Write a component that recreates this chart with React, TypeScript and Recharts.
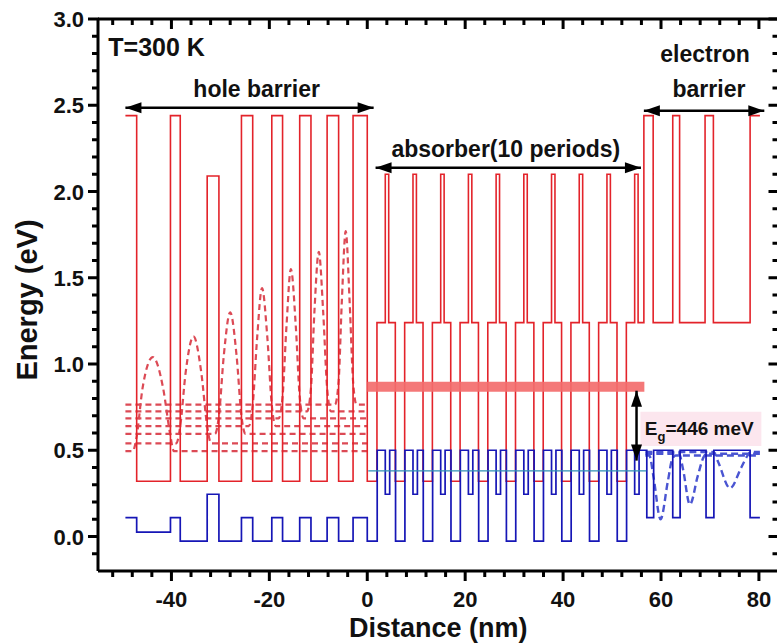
import {
  ComposedChart,
  Line,
  XAxis,
  YAxis,
  ReferenceArea,
  ReferenceDot,
  ReferenceLine,
  Label,
} from 'recharts'

const FONT = '"Liberation Sans", Arial, Helvetica, sans-serif'

// axis ticks
const xMajor = [-40, -20, 0, 20, 40, 60, 80]
const xMinor = [-52, -48, -44, -36, -32, -28, -24, -16, -12, -8, -4, 4, 8, 12, 16, 24, 28, 32, 36, 44, 48, 52, 56, 64, 68, 72, 76]
const yMajor = [0, 0.5, 1, 1.5, 2, 2.5, 3]
const yMinor = [-0.1, 0.1, 0.2, 0.3, 0.4, 0.6, 0.7, 0.8, 0.9, 1.1, 1.2, 1.3, 1.4, 1.6, 1.7, 1.8, 1.9, 2.1, 2.2, 2.3, 2.4, 2.6, 2.7, 2.8, 2.9]
const xTicks = [...xMajor, ...xMinor].sort((a, b) => a - b)
const yTicks = [...yMajor, ...yMinor].sort((a, b) => a - b)

// conduction band edge: step boundaries (nm) and energy of each step (eV)
const cbEdges = [
  -49.4, -47.1, -40.2, -38.2, -32.7, -30.3, -25.7, -23.4, -19.5, -17.3, -13.8, -11.5, -8.2, -5.85, -2.9, 0,
  1.98, 3.68, 4.38, 5.73,
  7.64, 9.34, 10.04, 11.39,
  13.3, 15.0, 15.7, 17.05,
  18.96, 20.66, 21.36, 22.71,
  24.62, 26.32, 27.02, 28.37,
  30.28, 31.98, 32.68, 34.03,
  35.94, 37.64, 38.34, 39.69,
  41.6, 43.3, 44.0, 45.35,
  47.26, 48.96, 49.66, 51.01,
  52.92, 54.62, 55.32,
  56.5, 58.4, 62.4, 63.8, 69.0, 70.7, 78.2, 80.2,
]
const cbLevels = [
  2.44, 0.32, 2.44, 0.32, 2.09, 0.32, 2.44, 0.32, 2.44, 0.32, 2.44, 0.32, 2.44, 0.32, 2.44,
  0.32,
  1.24, 2.1, 1.24, 0.32,
  1.24, 2.1, 1.24, 0.32,
  1.24, 2.1, 1.24, 0.32,
  1.24, 2.1, 1.24, 0.32,
  1.24, 2.1, 1.24, 0.32,
  1.24, 2.1, 1.24, 0.32,
  1.24, 2.1, 1.24, 0.32,
  1.24, 2.1, 1.24, 0.32,
  1.24, 2.1, 1.24, 0.32,
  1.24, 2.1, 1.24,
  2.44, 1.24, 2.44, 1.24, 2.44, 1.24, 2.44,
]

// valence band edge
const vbEdges = [
  -49.4, -47.1, -40.2, -38.2, -32.7, -30.3, -25.7, -23.4, -19.5, -17.3, -13.8, -11.5, -8.2, -5.85, -2.9, 0,
  2.03, 3.68, 4.58, 5.78,
  7.69, 9.34, 10.24, 11.44,
  13.35, 15.0, 15.9, 17.1,
  19.01, 20.66, 21.56, 22.76,
  24.67, 26.32, 27.22, 28.42,
  30.33, 31.98, 32.88, 34.08,
  35.99, 37.64, 38.54, 39.74,
  41.65, 43.3, 44.2, 45.4,
  47.31, 48.96, 49.86, 51.06,
  52.97, 54.62, 55.52,
  57.1, 58.5, 62.4, 63.9, 69.2, 70.8, 78.2, 80.2,
]
const vbLevels = [
  0.11, 0.025, 0.11, -0.027, 0.245, -0.027, 0.11, -0.027, 0.11, -0.027, 0.11, -0.027, 0.11, -0.027, 0.11,
  -0.027,
  0.5, 0.245, 0.5, -0.027,
  0.5, 0.245, 0.5, -0.027,
  0.5, 0.245, 0.5, -0.027,
  0.5, 0.245, 0.5, -0.027,
  0.5, 0.245, 0.5, -0.027,
  0.5, 0.245, 0.5, -0.027,
  0.5, 0.245, 0.5, -0.027,
  0.5, 0.245, 0.5, -0.027,
  0.5, 0.245, 0.5, -0.027,
  0.5, 0.245, 0.5,
  0.11, 0.5, 0.11, 0.5, 0.11, 0.5, 0.11,
]

// confined states in the hole barrier (nm, eV)
const holeWave1: [number, number][] = [[-49.4, 0.495], [-47.9, 0.495], [-47.1, 0.58], [-45.9, 0.86], [-43.8, 1.04], [-41.7, 0.86], [-40.3, 0.6], [-39.5, 0.495], [0, 0.495]]
const holeWave2: [number, number][] = [[-49.4, 0.54], [-39.0, 0.54], [-38.2, 0.64], [-37.1, 0.95], [-35.5, 1.16], [-33.9, 0.95], [-32.7, 0.64], [-31.9, 0.54], [0, 0.54]]
const holeWave3: [number, number][] = [[-49.4, 0.595], [-31.1, 0.595], [-30.3, 0.7], [-29.3, 1.05], [-28.0, 1.3], [-26.7, 1.05], [-25.7, 0.7], [-24.9, 0.595], [0, 0.595]]
const holeWave4: [number, number][] = [[-49.4, 0.64], [-24.2, 0.64], [-23.4, 0.76], [-22.5, 1.15], [-21.5, 1.44], [-20.4, 1.15], [-19.5, 0.76], [-18.7, 0.64], [0, 0.64]]
const holeWave5: [number, number][] = [[-49.4, 0.685], [-18.1, 0.685], [-17.3, 0.81], [-16.5, 1.22], [-15.6, 1.55], [-14.6, 1.22], [-13.8, 0.81], [-13.0, 0.685], [0, 0.685]]
const holeWave6: [number, number][] = [[-49.4, 0.725], [-12.3, 0.725], [-11.5, 0.86], [-10.8, 1.3], [-9.9, 1.65], [-9.0, 1.3], [-8.2, 0.86], [-7.4, 0.725], [0, 0.725]]
const holeWave7: [number, number][] = [[-49.4, 0.765], [-6.6, 0.765], [-5.85, 0.9], [-5.2, 1.36], [-4.4, 1.77], [-3.6, 1.36], [-2.9, 0.9], [-2.2, 0.765], [0, 0.765]]

// confined states in the electron barrier
const elecWave1: [number, number][] = [[56.8, 0.47], [57.6, 0.47], [58.5, 0.34], [59.9, 0.1], [61.4, 0.32], [62.3, 0.45], [63.0, 0.47], [80.2, 0.47]]
const elecWave2: [number, number][] = [[56.8, 0.48], [63.7, 0.48], [64.5, 0.39], [65.9, 0.185], [67.5, 0.35], [68.7, 0.46], [69.3, 0.48], [80.2, 0.48]]
const elecWave3: [number, number][] = [[56.8, 0.49], [70.7, 0.49], [71.7, 0.43], [74.1, 0.28], [76.4, 0.4], [77.7, 0.47], [78.3, 0.49], [80.2, 0.49]]

// absorber levels
const gapBand: [number, number][] = [[0, 0.868], [56.6, 0.868]]
const fermiLine: [number, number][] = [[0.2, 0.38], [57, 0.38]]

const steps = (edges: number[], levels: number[]) =>
  levels.flatMap((e, i) => [{ x: edges[i], y: e }, { x: edges[i + 1], y: e }])
const pts = (pairs: [number, number][]) => pairs.map(([x, y]) => ({ x, y }))

const cbData = steps(cbEdges, cbLevels)
const vbData = steps(vbEdges, vbLevels)
const holeWaves = [holeWave1, holeWave2, holeWave3, holeWave4, holeWave5, holeWave6, holeWave7].map(pts)
const elecWaves = [elecWave1, elecWave2, elecWave3].map(pts)

const textStyle = { fontFamily: FONT, fontWeight: 'bold' as const, fill: '#111' }

const BottomTick = (p: any) => {
  const major = xMajor.includes(p.payload.value)
  return (
    <g>
      <rect x={p.x - 1.5} y={p.y} width={3} height={major ? 10 : 6} fill="#000" />
      {major && (
        <text x={p.x} y={p.y + 36} textAnchor="middle" fontSize={22} {...textStyle}>
          {p.payload.value}
        </text>
      )}
    </g>
  )
}

const TopTick = (p: any) => {
  const major = xMajor.includes(p.payload.value)
  return <rect x={p.x - 1.5} y={p.y} width={3} height={major ? 10 : 6} fill="#000" />
}

const LeftTick = (p: any) => {
  const major = yMajor.includes(p.payload.value)
  const len = major ? 10 : 6
  return (
    <g>
      <rect x={p.x - len} y={p.y - 1.5} width={len + 1} height={3} fill="#000" />
      {major && (
        <text x={p.x - 14} y={p.y + 8} textAnchor="end" fontSize={22} {...textStyle}>
          {p.payload.value.toFixed(1)}
        </text>
      )}
    </g>
  )
}

const RightTick = (p: any) => {
  const major = yMajor.includes(p.payload.value)
  const len = major ? 10 : 6
  return <rect x={p.x - len} y={p.y - 1.5} width={len} height={3} fill="#000" />
}

const DoubleArrow = (p: any) => {
  const { x1, y1, x2, y2 } = p
  const a = Math.atan2(y2 - y1, x2 - x1)
  const head = (x: number, y: number, ang: number) => {
    const bx = x - 16 * Math.cos(ang)
    const by = y - 16 * Math.sin(ang)
    const sx = 5.5 * Math.sin(ang)
    const sy = 5.5 * Math.cos(ang)
    return `${x},${y} ${bx + sx},${by - sy} ${bx - sx},${by + sy}`
  }
  return (
    <g>
      <line x1={x1} y1={y1} x2={x2} y2={y2} stroke="#000" strokeWidth={2.5} />
      <polygon points={head(x2, y2, a)} fill="#000" />
      <polygon points={head(x1, y1, a + Math.PI)} fill="#000" />
    </g>
  )
}

const caption = (txt: string, size: number, anchor: 'start' | 'middle' = 'middle') => (p: any) => (
  <text x={p.cx} y={p.cy} textAnchor={anchor} fontSize={size} {...textStyle}>
    {txt}
  </text>
)

const gapCaption = (p: any) => (
  <text x={p.cx} y={p.cy} fontSize={19} {...textStyle}>
    E
    <tspan fontSize={13} dy={6}>g</tspan>
    <tspan dy={-6}>=446 meV</tspan>
  </text>
)

const axisLine = { stroke: '#000', strokeWidth: 3 }
const ax = { xAxisId: 'b', yAxisId: 'l' }

export default function App() {
  return (
    <div style={{ position: 'absolute', left: 0, top: 0, width: 777, height: 643, overflow: 'hidden', background: '#fff' }}>
      <ComposedChart width={800} height={643} margin={{ top: 18, right: 20.5, bottom: 0, left: 0 }}>
        <XAxis
          xAxisId="b"
          type="number"
          dataKey="x"
          domain={[-55, 84]}
          allowDataOverflow
          ticks={xTicks}
          interval={0}
          tickSize={0}
          tickMargin={0}
          tickLine={false}
          tick={BottomTick}
          axisLine={axisLine}
          height={72}
        >
          <Label
            content={({ viewBox }: any) => (
              <text x={viewBox.x + viewBox.width / 2} y={viewBox.y + 66} textAnchor="middle" fontSize={27} {...textStyle}>
                Distance (nm)
              </text>
            )}
          />
        </XAxis>
        <XAxis
          xAxisId="t"
          orientation="top"
          type="number"
          dataKey="x"
          domain={[-55, 84]}
          allowDataOverflow
          ticks={xTicks}
          interval={0}
          tickSize={0}
          tickMargin={0}
          tickLine={false}
          tick={TopTick}
          axisLine={axisLine}
          height={1}
        />
        <YAxis
          yAxisId="l"
          type="number"
          domain={[-0.2, 3]}
          allowDataOverflow
          ticks={yTicks}
          interval={0}
          tickSize={0}
          tickMargin={0}
          tickLine={false}
          tick={LeftTick}
          axisLine={axisLine}
          width={98}
        >
          <Label
            content={({ viewBox }: any) => (
              <text
                transform={`translate(${viewBox.x + 37}, 300) rotate(-90)`}
                textAnchor="middle"
                fontSize={29}
                {...textStyle}
              >
                Energy (eV)
              </text>
            )}
          />
        </YAxis>
        <YAxis
          yAxisId="r"
          orientation="right"
          type="number"
          domain={[-0.2, 3]}
          allowDataOverflow
          ticks={yTicks}
          interval={0}
          tickSize={0}
          tickMargin={0}
          tickLine={false}
          tick={RightTick}
          axisLine={axisLine}
          width={1}
        />

        <ReferenceArea {...ax} x1={55.8} x2={80.5} y1={0.525} y2={0.723} fill="#fce6ee" fillOpacity={1} stroke="none" />

        {holeWaves.map((d, i) => (
          <Line
            key={'h' + i}
            {...ax}
            data={d}
            dataKey="y"
            type="monotone"
            stroke="#dc4a55"
            strokeWidth={2.2}
            strokeDasharray="6 4"
            dot={false}
            activeDot={false}
            isAnimationActive={false}
          />
        ))}
        {elecWaves.map((d, i) => (
          <Line
            key={'e' + i}
            {...ax}
            data={d}
            dataKey="y"
            type="monotone"
            stroke="#4a55d2"
            strokeWidth={2.4}
            strokeDasharray="7 4"
            dot={false}
            activeDot={false}
            isAnimationActive={false}
          />
        ))}
        <Line {...ax} data={cbData} dataKey="y" type="linear" stroke="#e3232a" strokeWidth={1.6} dot={false} activeDot={false} isAnimationActive={false} />
        <Line {...ax} data={vbData} dataKey="y" type="linear" stroke="#1616b6" strokeWidth={1.7} dot={false} activeDot={false} isAnimationActive={false} />
        <Line {...ax} data={pts(fermiLine)} dataKey="y" type="linear" stroke="#2e8fb5" strokeWidth={1.2} dot={false} activeDot={false} isAnimationActive={false} />
        <Line {...ax} data={pts(gapBand)} dataKey="y" type="linear" stroke="#f36c6c" strokeWidth={10} strokeOpacity={0.92} dot={false} activeDot={false} isAnimationActive={false} />

        <ReferenceLine {...ax} segment={[{ x: -49.4, y: 2.485 }, { x: 1.3, y: 2.485 }]} shape={DoubleArrow} />
        <ReferenceLine {...ax} segment={[{ x: 1.7, y: 2.138 }, { x: 55.9, y: 2.138 }]} shape={DoubleArrow} />
        <ReferenceLine {...ax} segment={[{ x: 56.5, y: 2.468 }, { x: 81.1, y: 2.468 }]} shape={DoubleArrow} />
        <ReferenceLine {...ax} segment={[{ x: 55.0, y: 0.845 }, { x: 55.0, y: 0.44 }]} shape={DoubleArrow} />

        <ReferenceDot {...ax} x={-52.9} y={2.785} r={0} shape={caption('T=300 K', 25, 'start')} />
        <ReferenceDot {...ax} x={-22.6} y={2.546} r={0} shape={caption('hole barrier', 23)} />
        <ReferenceDot {...ax} x={28.3} y={2.2} r={0} shape={caption('absorber(10 periods)', 23)} />
        <ReferenceDot {...ax} x={69.0} y={2.752} r={0} shape={caption('electron', 23)} />
        <ReferenceDot {...ax} x={69.8} y={2.55} r={0} shape={caption('barrier', 23)} />
        <ReferenceDot {...ax} x={56.7} y={0.588} r={0} shape={gapCaption} />
      </ComposedChart>
    </div>
  )
}
